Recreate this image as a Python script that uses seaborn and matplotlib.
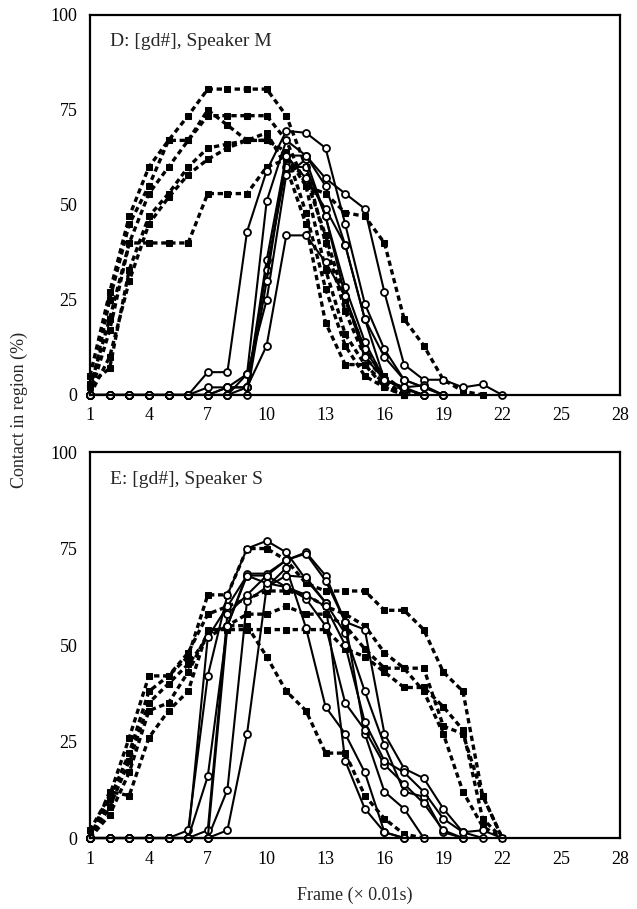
import pandas as pd
import seaborn as sns
import matplotlib.pyplot as plt

# frame numbers start at 1; each list gives % contact per frame
top_dashed = {
    "tD1": [5, 27, 47, 60, 67, 73.5, 80.5, 80.5, 80.5, 80.5, 73.5, 60, 40, 22, 10, 4, 0],
    "tD2": [2, 20, 40, 53, 60, 67, 73.5, 73.5, 73.5, 73.5, 67, 55, 33, 16, 8, 3, 0],
    "tD3": [0, 25, 45, 55, 67, 67, 75, 71, 67, 67, 64, 48, 28, 13, 5, 2, 0],
    "tD4": [0, 17, 40, 40, 40, 40, 53, 53, 53, 60, 62, 57, 42, 25, 12, 5, 1, 0],
    "tD5": [3, 7, 33, 47, 53, 60, 65, 66, 67, 67, 63, 55, 53, 48, 47, 40, 20, 13, 4, 1, 0],
    "tD6": [0, 10, 30, 45, 52, 58, 62, 65, 67, 69, 60, 45, 19, 8, 8, 2, 0],
}
top_solid = {
    "tS1": [0, 0, 0, 0, 0, 0, 6, 6, 43, 59, 69.5, 69, 65, 45, 24, 12, 4, 2, 0],
    "tS2": [0, 0, 0, 0, 0, 0, 0, 2, 5.5, 51, 67, 63, 57, 53, 49, 27, 8, 4, 4, 2, 2.8, 0],
    "tS3": [0, 0, 0, 0, 0, 0, 2, 2, 2, 35.5, 63, 57, 49, 39.5, 20, 4, 1.6, 0],
    "tS4": [0, 0, 0, 0, 0, 0, 0, 2, 2, 33, 60, 60, 47, 28.5, 14, 4, 1.6, 0],
    "tS5": [0, 0, 0, 0, 0, 0, 0, 0, 5.5, 25, 58, 62, 47, 26, 12, 4, 2, 0],
    "tS6": [0, 0, 0, 0, 0, 0, 0, 0, 2, 13, 42, 42, 35, 26, 10, 4, 2, 2.5, 0],
    "tS7": [0, 0, 0, 0, 0, 0, 0, 0, 0, 30, 63, 63, 55, 39.5, 20, 10, 4, 2, 0],
}
bottom_dashed = {
    "bD1": [2, 11, 26, 42, 42, 47, 63, 63, 75, 75, 72, 66, 64, 64, 64, 59, 59, 54, 43, 38, 11, 0],
    "bD2": [0, 6, 17, 33, 35, 43, 53, 55, 58, 58, 60, 58, 58, 55, 49, 44, 44, 44, 29, 27, 11, 0],
    "bD3": [0, 12, 11, 26, 33, 38, 54, 54, 54, 54, 54, 54, 54, 49, 47, 43, 39, 39, 34, 28, 5, 0],
    "bD4": [0, 8, 20, 35, 40, 45, 52, 55, 55, 47, 38, 33, 22, 22, 11, 5, 1, 0],
    "bD5": [0, 10, 22, 38, 42, 48, 58, 60, 62, 64, 64, 63, 60, 58, 55, 48, 44, 38, 27, 12, 3, 0],
}
bottom_solid = {
    "bS1": [0, 0, 0, 0, 0, 0, 52, 60, 68, 68, 72, 74, 68, 56, 54, 27, 18, 15.5, 7.6, 1.5, 2, 0],
    "bS2": [0, 0, 0, 0, 0, 2, 42, 63, 75, 77, 74, 67, 61, 53, 38, 24, 12, 10.7, 1.5, 0],
    "bS3": [0, 0, 0, 0, 0, 0, 16, 55, 68.5, 68.5, 72, 73.7, 66.7, 56, 27, 12, 7.6, 0],
    "bS4": [0, 0, 0, 0, 0, 0, 0, 12.5, 61.5, 65, 70, 54.5, 34, 27, 17, 1.5, 0],
    "bS5": [0, 0, 0, 0, 0, 0, 0, 2, 27, 65, 68, 67.6, 61, 20, 7.6, 1.5, 0],
    "bS6": [0, 0, 0, 0, 0, 0, 2, 58, 63, 68, 65, 62, 55, 35, 28, 19, 14, 9, 2, 0],
    "bS7": [0, 0, 0, 0, 0, 0, 0, 55, 68, 66, 65, 63, 60, 50, 30, 20, 17, 12, 5, 1.5, 0],
}
panel_titles = ["D: [gd#], Speaker M", "E: [gd#], Speaker S"]
x_ticks = [1, 4, 7, 10, 13, 16, 19, 22, 25, 28]
y_ticks = [0, 25, 50, 75, 100]


def to_long(series):
    rows = []
    for name, vals in series.items():
        for i, v in enumerate(vals):
            rows.append({"series": name, "frame": i + 1, "contact": v})
    return pd.DataFrame(rows)


sns.set_style("white")
plt.rcParams["font.family"] = ["Liberation Serif", "DejaVu Serif"]

fig = plt.figure(figsize=(6.37, 9.09), dpi=100)
ax_top = fig.add_axes([0.1413, 0.5655, 0.8320, 0.4180])
ax_bot = fig.add_axes([0.1413, 0.0781, 0.8320, 0.4246])

panels = [(ax_top, top_dashed, top_solid), (ax_bot, bottom_dashed, bottom_solid)]
for (ax, dashed, solid), title in zip(panels, panel_titles):
    # dashed series with filled squares
    sns.lineplot(data=to_long(dashed), x="frame", y="contact", units="series",
                 estimator=None, color="black", linewidth=2.4,
                 linestyle=(0, (1.6, 1.1)), marker="s", markersize=4.5,
                 markerfacecolor="black", markeredgecolor="black", ax=ax)
    # solid series with open circles
    sns.lineplot(data=to_long(solid), x="frame", y="contact", units="series",
                 estimator=None, color="black", linewidth=1.5,
                 linestyle="-", marker="o", markersize=5,
                 markerfacecolor="white", markeredgecolor="black",
                 markeredgewidth=1.3, ax=ax)

    ax.set_xlim(1, 28)
    ax.set_ylim(0, 100)
    ax.set_xticks(x_ticks)
    ax.set_yticks(y_ticks)
    ax.set_xlabel("")
    ax.set_ylabel("")
    ax.tick_params(direction="out", length=4, width=1.5, labelsize=13, pad=5,
                   colors="black")
    for sp in ax.spines.values():
        sp.set_visible(True)
        sp.set_linewidth(1.6)
        sp.set_color("black")
    for line in ax.lines:
        line.set_clip_on(False)
    ax.text(0.038, 0.93, title, transform=ax.transAxes, fontsize=14,
            ha="left", va="center")

fig.text(0.031, 0.549, "Contact in region (%)", rotation=90,
         ha="center", va="center", fontsize=13)
fig.text(0.557, 0.0154, "Frame (× 0.01s)", ha="center", va="center", fontsize=13)

fig.savefig("out.png", dpi=100)
